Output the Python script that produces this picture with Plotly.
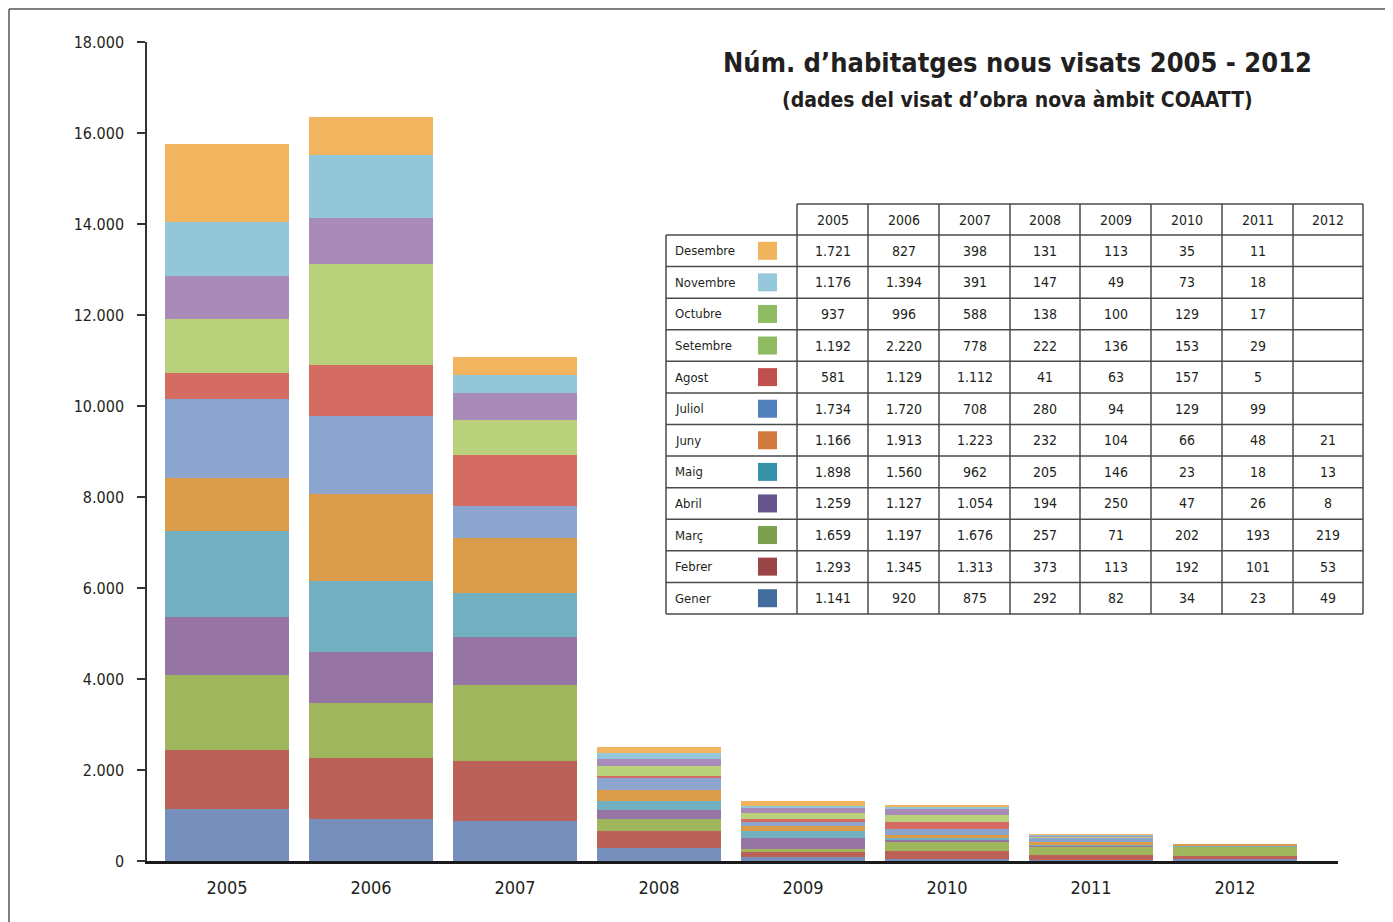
import plotly.graph_objects as go

years = ["2005", "2006", "2007", "2008", "2009", "2010", "2011", "2012"]
months = ["Gener", "Febrer", "Març", "Abril", "Maig", "Juny", "Juliol",
          "Agost", "Setembre", "Octubre", "Novembre", "Desembre"]

gener = [1141, 920, 875, 292, 82, 34, 23, 49]
febrer = [1293, 1345, 1313, 373, 113, 192, 101, 53]
marc = [1659, 1197, 1676, 257, 71, 202, 193, 219]
abril = [1259, 1127, 1054, 194, 250, 47, 26, 8]
maig = [1898, 1560, 962, 205, 146, 23, 18, 13]
juny = [1166, 1913, 1223, 232, 104, 66, 48, 21]
juliol = [1734, 1720, 708, 280, 94, 129, 99, None]
agost = [581, 1129, 1112, 41, 63, 157, 5, None]
setembre = [1192, 2220, 778, 222, 136, 153, 29, None]
octubre = [937, 996, 588, 138, 100, 129, 17, None]
novembre = [1176, 1394, 391, 147, 49, 73, 18, None]
desembre = [1721, 827, 398, 131, 113, 35, 11, None]

series = [gener, febrer, marc, abril, maig, juny, juliol, agost,
          setembre, octubre, novembre, desembre]

bar_colors = ["#768FBB", "#BC6157", "#9FB65C", "#9674A4", "#72AFC0", "#DA9B4B",
              "#8BA5CF", "#D46C63", "#B9D17A", "#A98BBA", "#93C6D8", "#F0B55E"]
swatch_colors = ["#426C9E", "#9B4447", "#7AA050", "#64558F", "#3592A8", "#D17B3F",
                 "#4F81BD", "#C0504D", "#8FBB62", "#8FBB62", "#94C8DA", "#F0B45C"]

FONT = "DejaVu Sans Condensed, sans-serif"
TXT = "#231f20"

fig = go.Figure()
for name, vals, col in zip(months, series, bar_colors):
    fig.add_trace(go.Bar(x=years, y=vals, name=name, marker=dict(color=col, line=dict(width=0)),
                         showlegend=False))

OFF = 8  # browser body margin
W, H = 1393 - OFF, 922 - OFF
# plot area in page pixels
L, R, T, B = 147, 1338, 42, 861


def px(x):
    return (x - L) / (R - L)


def py(y):
    return (B - y) / (B - T)


shapes = []
annotations = []

# outer frame
line_col = "#555555"
shapes.append(dict(type="line", xref="paper", yref="paper", x0=px(9), x1=px(1400), y0=py(9), y1=py(9),
                   line=dict(color=line_col, width=1.5)))
shapes.append(dict(type="line", xref="paper", yref="paper", x0=px(9), x1=px(9), y0=py(9), y1=py(930),
                   line=dict(color=line_col, width=1.5)))

# table geometry
col_x = [666, 797, 868, 939, 1010, 1080, 1151, 1222, 1293, 1363]
top, head_bot, bot = 204, 235, 614
nrows = len(months)
rh = (bot - head_bot) / nrows
tcol = "#4a4a4a"
tw = 1.5

shapes.append(dict(type="line", xref="paper", yref="paper", x0=px(col_x[1]), x1=px(col_x[-1]),
                   y0=py(top), y1=py(top), line=dict(color=tcol, width=tw)))
for i in range(nrows + 1):
    yy = head_bot + i * rh
    shapes.append(dict(type="line", xref="paper", yref="paper", x0=px(col_x[0]), x1=px(col_x[-1]),
                       y0=py(yy), y1=py(yy), line=dict(color=tcol, width=tw)))
shapes.append(dict(type="line", xref="paper", yref="paper", x0=px(col_x[0]), x1=px(col_x[0]),
                   y0=py(head_bot), y1=py(bot), line=dict(color=tcol, width=tw)))
for cx in col_x[1:]:
    shapes.append(dict(type="line", xref="paper", yref="paper", x0=px(cx), x1=px(cx),
                       y0=py(top), y1=py(bot), line=dict(color=tcol, width=tw)))

for j, yr in enumerate(years):
    cx = (col_x[j + 1] + col_x[j + 2]) / 2
    annotations.append(dict(xref="paper", yref="paper", x=px(cx), y=py((top + head_bot) / 2),
                            text=yr, showarrow=False, xanchor="center", yanchor="middle",
                            font=dict(family=FONT, size=14, color=TXT)))


def fmt(v):
    return f"{v:,}".replace(",", ".")


for r in range(nrows):
    mi = nrows - 1 - r
    cy = head_bot + (r + 0.5) * rh
    annotations.append(dict(xref="paper", yref="paper", x=px(673), y=py(cy), text=months[mi],
                            showarrow=False, xanchor="left", yanchor="middle",
                            font=dict(family=FONT, size=13, color=TXT)))
    shapes.append(dict(type="rect", xref="paper", yref="paper", x0=px(758), x1=px(777),
                       y0=py(cy - 9), y1=py(cy + 9), fillcolor=swatch_colors[mi], line=dict(width=0)))
    for j, v in enumerate(series[mi]):
        if v is None:
            continue
        cx = (col_x[j + 1] + col_x[j + 2]) / 2
        annotations.append(dict(xref="paper", yref="paper", x=px(cx), y=py(cy), text=fmt(v),
                                showarrow=False, xanchor="center", yanchor="middle",
                                font=dict(family=FONT, size=14, color=TXT)))

annotations.append(dict(xref="paper", yref="paper", x=px(1018), y=py(62),
                        text="<b>Núm. d’habitatges nous visats 2005 - 2012</b>", showarrow=False,
                        xanchor="center", yanchor="middle", font=dict(family=FONT, size=27, color=TXT)))
annotations.append(dict(xref="paper", yref="paper", x=px(1018), y=py(100),
                        text="<b>(dades del visat d’obra nova àmbit COAATT)</b>", showarrow=False,
                        xanchor="center", yanchor="middle", font=dict(family=FONT, size=21, color=TXT)))

fig.update_layout(
    width=W, height=H,
    barmode="stack", bargap=0.139,
    margin=dict(l=L - OFF, r=W - (R - OFF), t=T - OFF, b=H - (B - OFF)),
    paper_bgcolor="white", plot_bgcolor="white",
    separators=",.",
    shapes=shapes, annotations=annotations,
    font=dict(family=FONT, color=TXT),
    xaxis=dict(range=[-0.556, 7.715], showgrid=False, showline=True, linecolor="#1a1a1a", linewidth=2.5,
               ticks="", tickfont=dict(family=FONT, size=18, color=TXT), ticklabelstandoff=9,
               zeroline=False, fixedrange=True),
    yaxis=dict(range=[0, 18000], dtick=2000, tickformat=",d", showgrid=False, showline=True,
               linecolor="#333333", linewidth=1.5, ticks="outside", ticklen=8, tickcolor="#333333",
               tickwidth=1.5, tickfont=dict(family=FONT, size=16, color=TXT), ticklabelstandoff=10,
               zeroline=False, fixedrange=True),
)

fig.write_html("out.html")
